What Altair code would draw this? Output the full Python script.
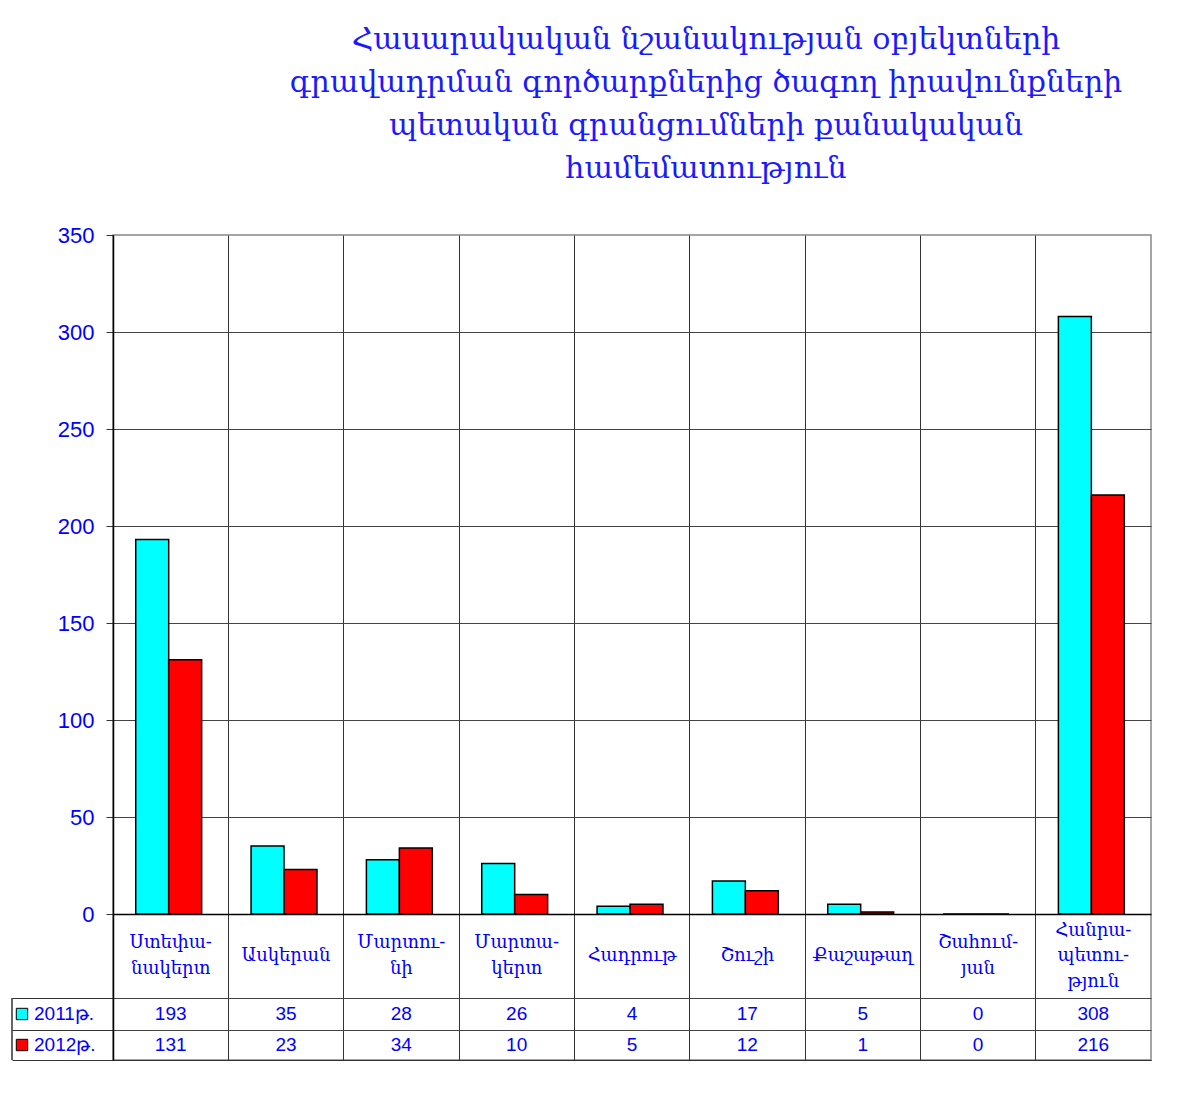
import altair as alt
import pandas as pd

title_lines = [
    "Հասարակական նշանակության օբյեկտների",
    "գրավադրման գործարքներից ծագող իրավունքների",
    "պետական գրանցումների քանակական",
    "համեմատություն",
]
categories = ["Ստեփանակերտ", "Ասկերան", "Մարտունի", "Մարտակերտ", "Հադրութ",
              "Շուշի", "Քաշաթաղ", "Շահումյան", "Հանրապետություն"]
category_labels = [["Ստեփա-", "նակերտ"], ["Ասկերան"], ["Մարտու-", "նի"],
                   ["Մարտա-", "կերտ"], ["Հադրութ"], ["Շուշի"], ["Քաշաթաղ"],
                   ["Շահում-", "յան"], ["Հանրա-", "պետու-", "թյուն"]]
series = ["2011թ.", "2012թ."]
values_2011 = [193, 35, 28, 26, 4, 17, 5, 0, 308]
values_2012 = [131, 23, 34, 10, 5, 12, 1, 0, 216]
colors = ["#00FFFF", "#FF0000"]
y_ticks = [0, 50, 100, 150, 200, 250, 300, 350]

BLUE = "#0000ff"
GRID = "#333333"

# layout: the data table sits below the zero line, in the same y scale
PLOT_H, LABEL_H, ROW1_H, ROW2_H, LINE_H = 679, 84, 32, 30, 25.5
Y_MAX = 350
U = Y_MAX / PLOT_H                      # data units per pixel
B1 = -LABEL_H * U                       # bottom of label row
B2 = -(LABEL_H + ROW1_H) * U            # bottom of 2011 row
B3 = -(LABEL_H + ROW1_H + ROW2_H) * U   # bottom of 2012 row
LABEL_C = -(LABEL_H / 2) * U
ROW_C = [-(LABEL_H + ROW1_H / 2) * U, -(LABEL_H + ROW1_H + ROW2_H / 2) * U]
TOTAL_H = PLOT_H + LABEL_H + ROW1_H + ROW2_H

rows = []
for c, v1, v2 in zip(categories, values_2011, values_2012):
    rows.append({"category": c, "series": series[0], "value": v1, "ypos": ROW_C[0]})
    rows.append({"category": c, "series": series[1], "value": v2, "ypos": ROW_C[1]})
df = pd.DataFrame(rows)

label_rows = []
for c, lines in zip(categories, category_labels):
    n = len(lines)
    for i, t in enumerate(lines):
        label_rows.append({"category": c, "line": t,
                           "ypos": LABEL_C - (i - (n - 1) / 2) * LINE_H * U})
labels_df = pd.DataFrame(label_rows)

legend_df = pd.DataFrame({"series": series, "ypos": ROW_C})

x_enc = alt.X("category:N", sort=categories,
              scale=alt.Scale(type="band", paddingInner=0, paddingOuter=0),
              axis=alt.Axis(title=None, labels=False, ticks=False, grid=True,
                            gridColor=GRID, gridWidth=1, bandPosition=0,
                            domain=True, domainColor=GRID, domainWidth=1))

y_scale = alt.Scale(domain=[B3, Y_MAX], nice=False, zero=False)
y_axis = alt.Axis(
    title=None, values=y_ticks + [B1, B2, B3],
    labelExpr="datum.value < 0 ? '' : datum.label",
    labelColor=BLUE, labelFont="Liberation Sans", labelFontSize=22,
    labelPadding=12,
    tickSize=alt.condition("datum.value < 0", alt.value(101), alt.value(7)),
    tickColor=GRID,
    domainColor="black", domainWidth=1.5,
    gridColor={"condition": [{"test": "datum.value === 350", "value": "transparent"},
                             {"test": "datum.value === 0", "value": "black"}],
               "value": "#444444"},
    gridWidth=alt.condition("datum.value === 0", alt.value(1.5), alt.value(1)),
)

color_scale = alt.Scale(domain=series, range=colors)

bars = alt.Chart(df).mark_bar(stroke="black", strokeWidth=1.5).encode(
    x=x_enc,
    xOffset=alt.XOffset("series:N", sort=series,
                        scale=alt.Scale(paddingOuter=0.75, paddingInner=0, align=0.46)),
    y=alt.Y("value:Q", scale=y_scale, axis=y_axis),
    color=alt.Color("series:N", scale=color_scale, legend=None),
)

cat_text = alt.Chart(labels_df).mark_text(
    font="DejaVu Serif", fontSize=18, color=BLUE, baseline="middle"
).encode(
    x=x_enc,
    y=alt.Y("ypos:Q"),
    text="line:N",
)

value_text = alt.Chart(df).mark_text(
    font="Liberation Sans", fontSize=19, color=BLUE, baseline="middle"
).encode(
    x=x_enc,
    y=alt.Y("ypos:Q"),
    text="value:Q",
)

swatch = alt.Chart(legend_df).mark_square(
    size=130, filled=True, stroke="black", strokeWidth=1, opacity=1
).encode(
    x=alt.value(-91),
    y=alt.Y("ypos:Q"),
    color=alt.Color("series:N", scale=color_scale, legend=None),
)

swatch_text = alt.Chart(legend_df).mark_text(
    align="left", baseline="middle", font="Liberation Sans", fontSize=19, color=BLUE
).encode(
    x=alt.value(-79),
    y=alt.Y("ypos:Q"),
    text="series:N",
)

left_border = alt.Chart(legend_df).mark_rule(color=GRID, strokeWidth=1).encode(
    x=alt.value(-101), y=alt.datum(B1), y2=alt.datum(B3),
)

chart = alt.layer(bars, cat_text, value_text, swatch, swatch_text, left_border).properties(
    width=1038, height=TOTAL_H,
    title=alt.TitleParams(text=title_lines, font="DejaVu Serif", fontSize=30,
                          fontWeight="normal", color="#1a1aff", lineHeight=43,
                          anchor="middle", dx=74, offset=40),
    padding={"left": 3, "top": 17, "right": 10, "bottom": 10},
).configure_view(stroke="#888888", strokeWidth=1.5)

chart.save("out.html", embed_options={"renderer": "svg", "actions": False})
